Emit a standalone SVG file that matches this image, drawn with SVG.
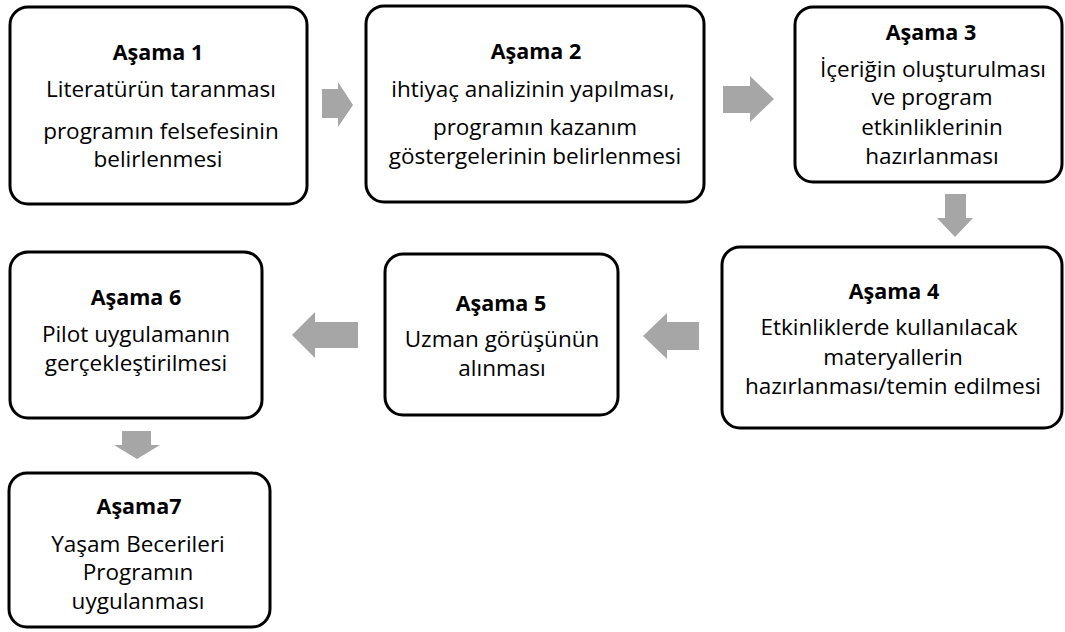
<svg xmlns="http://www.w3.org/2000/svg" width="1065" height="632" viewBox="0 0 1065 632">
<style>
.box{fill:#fff;stroke:#000;stroke-width:3}
.t{font-family:"Open Sans","Liberation Sans",sans-serif;font-size:22.5px;fill:#000;text-anchor:middle}
.h{font-weight:bold;font-size:21.5px}
.arr{fill:#a6a6a6}
</style>
<rect width="1065" height="632" fill="#fff"/>
<g id="connectors">
<polygon class="arr" points="322,89 338,89 338,82 353,105 338,127 338,118 322,118"/>
<polygon class="arr" points="723,86 750,86 750,76 774,99 750,122 750,113 723,113"/>
<polygon class="arr" points="945,194 966,194 966,218 973,218 955,237 937,218 945,218"/>
<polygon class="arr" points="699,322 667,322 667,313 643,336 667,359 667,350 699,350"/>
<polygon class="arr" points="358,322 315,322 315,312 292,335 315,358 315,348 358,348"/>
<polygon class="arr" points="122,431 151,431 151,445 160,445 137,459 114,445 122,445"/>
</g>
<g id="node1">
<rect class="box" x="10" y="7" width="297" height="197" rx="18"/>
<text class="t h" x="158" y="60">Aşama 1</text>
<text class="t" x="161" y="97">Literatürün taranması</text>
<text class="t" x="161" y="139">programın felsefesinin</text>
<text class="t" x="158" y="167">belirlenmesi</text>
</g>
<g id="node2">
<rect class="box" x="366" y="6" width="338" height="196" rx="18"/>
<text class="t h" x="536" y="59">Aşama 2</text>
<text class="t" x="533" y="97">ihtiyaç analizinin yapılması,</text>
<text class="t" x="535" y="135">programın kazanım</text>
<text class="t" x="535" y="164">göstergelerinin belirlenmesi</text>
</g>
<g id="node3">
<rect class="box" x="795" y="7" width="267" height="175" rx="18"/>
<text class="t h" x="931" y="40">Aşama 3</text>
<text class="t" x="933" y="77">İçeriğin oluşturulması</text>
<text class="t" x="932" y="105">ve program</text>
<text class="t" x="932" y="135">etkinliklerinin</text>
<text class="t" x="932" y="164">hazırlanması</text>
</g>
<g id="node4">
<rect class="box" x="722" y="247" width="340" height="181" rx="18"/>
<text class="t h" x="894" y="299">Aşama 4</text>
<text class="t" x="889" y="335">Etkinliklerde kullanılacak</text>
<text class="t" x="893" y="365">materyallerin</text>
<text class="t" x="893" y="394">hazırlanması/temin edilmesi</text>
</g>
<g id="node5">
<rect class="box" x="385" y="254" width="233" height="161" rx="18"/>
<text class="t h" x="501" y="311">Aşama 5</text>
<text class="t" x="502" y="347">Uzman görüşünün</text>
<text class="t" x="502" y="376">alınması</text>
</g>
<g id="node6">
<rect class="box" x="10" y="252" width="252" height="166" rx="18"/>
<text class="t h" x="136" y="305">Aşama 6</text>
<text class="t" x="136" y="342">Pilot uygulamanın</text>
<text class="t" x="136" y="371">gerçekleştirilmesi</text>
</g>
<g id="node7">
<rect class="box" x="9" y="473" width="261" height="154" rx="18"/>
<text class="t h" x="139" y="514">Aşama7</text>
<text class="t" x="138" y="552">Yaşam Becerileri</text>
<text class="t" x="138" y="580">Programın</text>
<text class="t" x="138" y="609">uygulanması</text>
</g>
</svg>
